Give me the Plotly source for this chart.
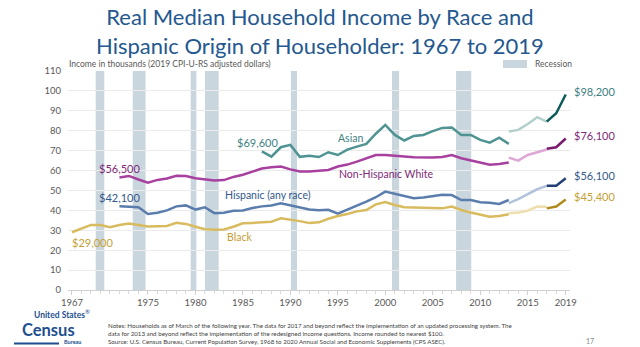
import plotly.graph_objects as go

# ---------------- data ----------------
years_main = list(range(1967, 2014))
years_redesign = list(range(2013, 2018))
years_update = list(range(2017, 2020))

black_main = [29.0, 30.8, 32.7, 32.6, 31.5, 32.6, 33.4, 32.6, 31.9, 32.0,
              32.2, 33.8, 33.2, 31.8, 30.5, 30.3, 30.4, 31.8, 33.5, 33.7,
              34.0, 34.3, 36.0, 35.4, 34.6, 33.6, 34.0, 35.8, 37.2, 38.2,
              39.5, 40.2, 43.0, 44.2, 42.7, 41.6, 41.5, 41.3, 41.0, 41.0,
              41.9, 40.2, 38.9, 37.7, 36.8, 37.2, 38.0]
hisp_main = [None] * 5 + [
    42.1, 42.0, 41.6, 38.2, 38.8, 40.0, 42.0, 42.5, 40.4, 41.5,
    38.6, 38.8, 39.8, 39.9, 41.2, 42.0, 42.5, 43.6, 42.6, 41.5,
    40.4, 40.1, 40.3, 38.4, 40.6, 42.4, 44.4, 46.6, 49.4, 48.3,
    47.0, 46.1, 46.5, 47.2, 47.9, 47.7, 45.2, 45.2, 44.1, 43.8,
    43.2, 45.2]
white_main = [None] * 5 + [
    56.5, 57.3, 55.5, 53.9, 55.3, 56.0, 57.4, 57.3, 56.1, 55.5,
    55.0, 55.2, 56.8, 57.9, 59.6, 61.0, 61.6, 62.0, 60.6, 59.5,
    59.5, 59.8, 60.3, 62.0, 63.0, 64.5, 66.3, 67.8, 67.8, 67.3,
    67.0, 66.7, 66.5, 66.6, 66.8, 67.8, 66.2, 65.2, 64.1, 62.9,
    63.3, 64.0]
asian_main = [None] * 20 + [
    69.6, 67.0, 71.7, 72.9, 66.9, 67.4, 66.8, 69.2, 67.8, 70.5,
    72.0, 73.4, 78.5, 82.9, 77.9, 75.1, 77.4, 77.9, 79.8, 81.4,
    81.6, 77.9, 77.9, 75.4, 74.0, 76.5, 73.4]

asian_redesign = [79.6, 80.4, 83.4, 86.8, 84.6]
white_redesign = [66.5, 65.0, 67.8, 69.2, 70.6]
hisp_redesign = [43.6, 45.6, 48.2, 50.6, 52.3]
black_redesign = [38.5, 38.9, 39.8, 41.9, 41.8]

asian_update = [84.6, 88.8, 98.2]
white_update = [71.0, 71.7, 76.1]
hisp_update = [52.4, 52.4, 56.1]
black_update = [41.0, 41.9, 45.4]

recession_start = [1969.5, 1973.4, 1979.5, 1981.0, 1990.05, 2000.7, 2007.45]
recession_end = [1970.4, 1974.75, 1980.1, 1982.45, 1990.7, 2001.45, 2009.05]

x_tickvals = [1967, 1975, 1980, 1985, 1990, 1995, 2000, 2005, 2010, 2015, 2019]
y_tickvals = list(range(0, 111, 10))

# ---------------- styling ----------------
FONT = "Lato"
W, H = 640, 347
ML, MR, MT, MB = 68, 70, 71, 57
PW, PH = W - ML - MR, H - MT - MB


def px2paper_x(px):
    return (px - ML) / PW


def px2paper_y(py):
    return (H - MB - py) / PH


series = [
    ("Asian", asian_main, asian_redesign, asian_update,
     ("#4f9392", "#b3cfcd", "#0f5b5c")),
    ("Non-Hispanic White", white_main, white_redesign, white_update,
     ("#a8409f", "#dca6d6", "#7a1a6e")),
    ("Hispanic (any race)", hisp_main, hisp_redesign, hisp_update,
     ("#5b7dad", "#b2c2da", "#213f74")),
    ("Black", black_main, black_redesign, black_update,
     ("#d8bb5f", "#eedfae", "#b08b1c")),
]

fig = go.Figure()

for name, main, red, upd, cols in series:
    fig.add_trace(go.Scatter(x=years_main, y=main, mode="lines",
                             line=dict(color=cols[0], width=2.5),
                             showlegend=False, hoverinfo="skip"))
    fig.add_trace(go.Scatter(x=years_redesign, y=red, mode="lines",
                             line=dict(color=cols[1], width=2.5),
                             showlegend=False, hoverinfo="skip"))
    fig.add_trace(go.Scatter(x=years_update, y=upd, mode="lines",
                             line=dict(color=cols[2], width=2.5),
                             showlegend=False, hoverinfo="skip"))

shapes = []
for s, e in zip(recession_start, recession_end):
    shapes.append(dict(type="rect", xref="x", yref="y", x0=s, x1=e, y0=0, y1=110,
                       fillcolor="#c9d6de", line=dict(width=0), layer="below"))
# legend swatch
shapes.append(dict(type="rect", xref="paper", yref="paper",
                   x0=px2paper_x(503), x1=px2paper_x(527),
                   y0=px2paper_y(68), y1=px2paper_y(60),
                   fillcolor="#c9d6de", line=dict(width=0)))
# census logo bar
shapes.append(dict(type="line", xref="paper", yref="paper",
                   x0=px2paper_x(14), x1=px2paper_x(59),
                   y0=px2paper_y(343.5), y1=px2paper_y(343.5),
                   line=dict(color="#1d4f90", width=2)))

ann = []


def lab(text, x, y, color, size=11, xanchor="center", xshift=0, yshift=0):
    ann.append(dict(text=text, x=x, y=y, xref="x", yref="y", showarrow=False,
                    xanchor=xanchor, yanchor="middle", xshift=xshift, yshift=yshift,
                    font=dict(family=FONT, size=size, color=color)))


def plab(text, px, py, size, color, xanchor="center", yanchor="middle", align="center"):
    ann.append(dict(text=text, x=px2paper_x(px), y=px2paper_y(py), xref="paper",
                    yref="paper", xanchor=xanchor, yanchor=yanchor, align=align,
                    showarrow=False, font=dict(family=FONT, size=size, color=color)))


# end labels
end_vals = [(asian_update[-1], "#3d8184"), (white_update[-1], "#7e2a78"),
            (hisp_update[-1], "#33598c"), (black_update[-1], "#c4a034")]
for v, c in end_vals:
    lab("$" + f"{int(round(v * 1000)):,}", years_update[-1], v, c,
        xanchor="left", xshift=6, yshift=3)

# start labels
lab("$" + f"{int(round(white_main[5] * 1000)):,}", years_main[5], white_main[5],
    "#7e2a78", yshift=9)
lab("$" + f"{int(round(hisp_main[5] * 1000)):,}", years_main[5], hisp_main[5],
    "#33598c", yshift=9)
lab("$" + f"{int(round(black_main[0] * 1000)):,}", years_main[0], black_main[0],
    "#c4a034", xanchor="left", xshift=-2, yshift=-10)
lab("$" + f"{int(round(asian_main[20] * 1000)):,}", years_main[20], asian_main[20],
    "#3d8184", xshift=-4, yshift=9)

# series names
lab("Asian", 1996.3, 76.4, "#3d8184", size=10.5)
lab("Non-Hispanic White", 1994.9, 58.3, "#7e2a78", size=10.5, xanchor="left")
lab("Hispanic (any race)", 1987.6, 47.7, "#33598c", size=10.5)
lab("Black", 1983.1, 26.6, "#c4a034", size=10.5, xanchor="left")

# title
plab("Real Median Household Income by Race and<br>"
     "Hispanic Origin of Householder: 1967 to 2019", 320, 31, 22, "#24588f")

# axis title & legend text
plab("Income in thousands (2019 CPI-U-RS adjusted dollars)", 67, 64, 8.5,
     "#595959", xanchor="left")
plab("Recession", 533, 64, 8.5, "#595959", xanchor="left")

# logo
plab("<b>United States</b><sup>®</sup>", 62, 314, 8.5, "#1d4f90")
plab("<b>Census</b>", 48, 330, 16.5, "#1d4f90")
plab("<b>Bureau</b>", 83, 347, 5.5, "#1d4f90", xanchor="right", yanchor="bottom")

# notes
notes = ("Notes: Households as of March of the following year. The data for 2017 and beyond "
         "reflect the implementation of an updated processing system. The<br>"
         "data for 2013 and beyond reflect the implementation of the redesigned income "
         "questions. Income rounded to nearest $100.<br>"
         "Source: U.S. Census Bureau, Current Population Survey, 1968 to 2020 Annual Social "
         "and Economic Supplements (CPS ASEC).")
plab(notes, 106, 319.5, 6.2, "#404040", xanchor="left", yanchor="top", align="left")
plab("17", 590, 341, 7, "#8a8a8a")

fig.update_layout(
    width=W, height=H,
    margin=dict(l=ML, r=MR, t=MT, b=MB),
    paper_bgcolor="white", plot_bgcolor="white",
    shapes=shapes,
    annotations=ann,
    xaxis=dict(range=[1966.58, 2019.45], tickvals=x_tickvals, showgrid=False,
               zeroline=False, showline=True, linecolor="#d0d0d0", linewidth=1,
               ticks="outside", ticklen=4, tickcolor="#d0d0d0",
               minor=dict(dtick=1, tick0=1967, ticks="outside", ticklen=3,
                          tickcolor="#d9d9d9", showgrid=False),
               tickfont=dict(family=FONT, size=9.5, color="#595959")),
    yaxis=dict(range=[0, 110], tickvals=y_tickvals, showgrid=True,
               gridcolor="#ebebeb", gridwidth=1, zeroline=False, showline=False,
               ticks="", ticklabelstandoff=6,
               tickfont=dict(family=FONT, size=9.5, color="#595959")),
)

fig.write_html("out.html")
